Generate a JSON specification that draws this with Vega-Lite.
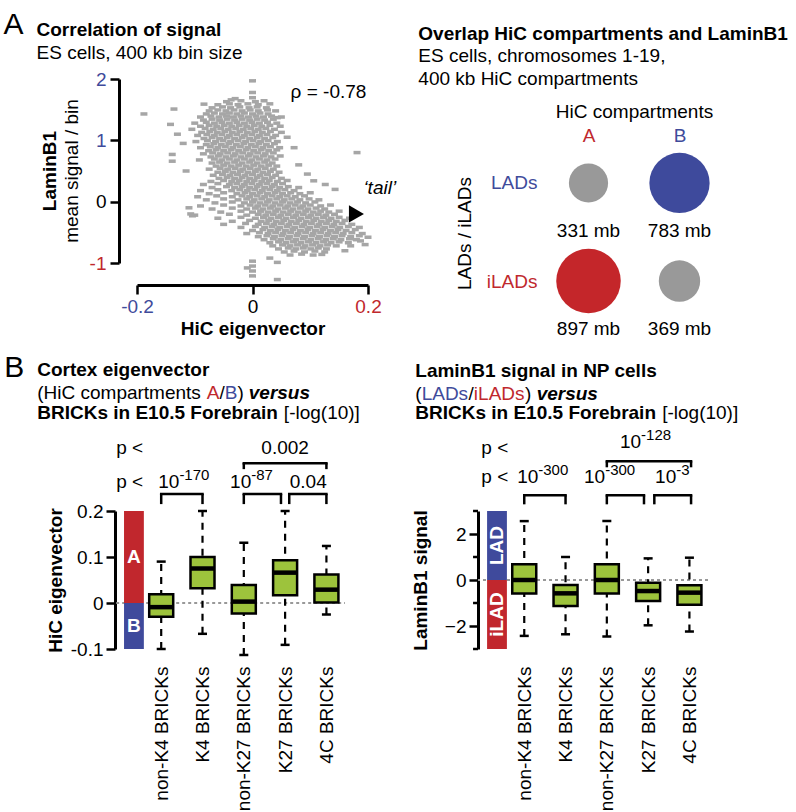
{
"$schema": "https://vega.github.io/schema/vega-lite/v6.json",
"padding": {"left": 3, "top": 9, "right": 5, "bottom": 0},
"config": {
  "font": "Liberation Sans",
  "view": {"stroke": null},
  "axis": {"labelFont": "Liberation Sans", "titleFont": "Liberation Sans", "labelFontSize": 19, "titleFontSize": 19, "labelColor": "#000", "titleColor": "#000", "domainColor": "#000", "tickColor": "#000", "grid": false},
  "text": {"font": "Liberation Sans", "fontSize": 19, "color": "#000"},
  "title": {"font": "Liberation Sans", "subtitleFont": "Liberation Sans", "color": "#000", "subtitleColor": "#000"}
},
"spacing": 13,
"vconcat": [
{
 "spacing": 21,
 "hconcat": [
 {
  "width": 231, "height": 184,
  "layer": [
   {
    "data": {"values": [
{"x":-0.03,"y":1.68},{"x":0,"y":1.695},
{"x":-0.045,"y":1.63},{"x":-0.02,"y":1.645},{"x":0.005,"y":1.63},{"x":0.02,"y":1.645},
{"x":-0.06,"y":1.58},{"x":-0.04,"y":1.595},{"x":-0.025,"y":1.58},{"x":-0.008,"y":1.595},{"x":0.01,"y":1.58},{"x":0.03,"y":1.595},
{"x":-0.07,"y":1.53},{"x":-0.052,"y":1.545},{"x":-0.038,"y":1.53},{"x":-0.022,"y":1.545},{"x":-0.006,"y":1.53},{"x":0.008,"y":1.545},{"x":0.024,"y":1.53},
{"x":-0.075,"y":1.48},{"x":-0.06,"y":1.495},{"x":-0.046,"y":1.48},{"x":-0.032,"y":1.495},{"x":-0.018,"y":1.48},{"x":-0.004,"y":1.495},{"x":0.01,"y":1.48},{"x":0.026,"y":1.495},{"x":0.04,"y":1.48},
{"x":-0.08,"y":1.43},{"x":-0.066,"y":1.445},{"x":-0.052,"y":1.43},{"x":-0.04,"y":1.445},{"x":-0.027,"y":1.43},{"x":-0.014,"y":1.445},{"x":0,"y":1.43},{"x":0.013,"y":1.445},{"x":0.027,"y":1.43},
{"x":-0.09,"y":1.38},{"x":-0.072,"y":1.395},{"x":-0.058,"y":1.38},{"x":-0.045,"y":1.395},{"x":-0.033,"y":1.38},{"x":-0.02,"y":1.395},{"x":-0.007,"y":1.38},{"x":0.006,"y":1.395},{"x":0.019,"y":1.38},{"x":0.033,"y":1.395},{"x":0.05,"y":1.38},
{"x":-0.085,"y":1.33},{"x":-0.07,"y":1.345},{"x":-0.057,"y":1.33},{"x":-0.044,"y":1.345},{"x":-0.031,"y":1.33},{"x":-0.018,"y":1.345},{"x":-0.005,"y":1.33},{"x":0.008,"y":1.345},{"x":0.021,"y":1.33},{"x":0.036,"y":1.345},
{"x":-0.1,"y":1.28},{"x":-0.08,"y":1.295},{"x":-0.066,"y":1.28},{"x":-0.053,"y":1.295},{"x":-0.04,"y":1.28},{"x":-0.027,"y":1.295},{"x":-0.014,"y":1.28},{"x":-0.001,"y":1.295},{"x":0.012,"y":1.28},{"x":0.026,"y":1.295},{"x":0.042,"y":1.28},
{"x":-0.09,"y":1.23},{"x":-0.075,"y":1.245},{"x":-0.062,"y":1.23},{"x":-0.049,"y":1.245},{"x":-0.036,"y":1.23},{"x":-0.023,"y":1.245},{"x":-0.01,"y":1.23},{"x":0.003,"y":1.245},{"x":0.016,"y":1.23},{"x":0.03,"y":1.245},{"x":0.048,"y":1.23},
{"x":-0.105,"y":1.18},{"x":-0.082,"y":1.195},{"x":-0.068,"y":1.18},{"x":-0.055,"y":1.195},{"x":-0.042,"y":1.18},{"x":-0.029,"y":1.195},{"x":-0.016,"y":1.18},{"x":-0.003,"y":1.195},{"x":0.01,"y":1.18},{"x":0.023,"y":1.195},{"x":0.038,"y":1.18},
{"x":-0.088,"y":1.13},{"x":-0.074,"y":1.145},{"x":-0.061,"y":1.13},{"x":-0.048,"y":1.145},{"x":-0.035,"y":1.13},{"x":-0.022,"y":1.145},{"x":-0.009,"y":1.13},{"x":0.004,"y":1.145},{"x":0.017,"y":1.13},{"x":0.031,"y":1.145},{"x":0.05,"y":1.13},
{"x":-0.095,"y":1.08},{"x":-0.079,"y":1.095},{"x":-0.066,"y":1.08},{"x":-0.053,"y":1.095},{"x":-0.04,"y":1.08},{"x":-0.027,"y":1.095},{"x":-0.014,"y":1.08},{"x":-0.001,"y":1.095},{"x":0.012,"y":1.08},{"x":0.025,"y":1.095},{"x":0.04,"y":1.08},
{"x":-0.084,"y":1.03},{"x":-0.07,"y":1.045},{"x":-0.057,"y":1.03},{"x":-0.044,"y":1.045},{"x":-0.031,"y":1.03},{"x":-0.018,"y":1.045},{"x":-0.005,"y":1.03},{"x":0.008,"y":1.045},{"x":0.021,"y":1.03},{"x":0.035,"y":1.045},
{"x":-0.098,"y":0.98},{"x":-0.078,"y":0.995},{"x":-0.064,"y":0.98},{"x":-0.051,"y":0.995},{"x":-0.038,"y":0.98},{"x":-0.025,"y":0.995},{"x":-0.012,"y":0.98},{"x":0.001,"y":0.995},{"x":0.014,"y":0.98},{"x":0.027,"y":0.995},{"x":0.043,"y":0.98},
{"x":-0.08,"y":0.93},{"x":-0.067,"y":0.945},{"x":-0.054,"y":0.93},{"x":-0.041,"y":0.945},{"x":-0.028,"y":0.93},{"x":-0.015,"y":0.945},{"x":-0.002,"y":0.93},{"x":0.011,"y":0.945},{"x":0.024,"y":0.93},{"x":0.038,"y":0.945},
{"x":-0.09,"y":0.88},{"x":-0.073,"y":0.895},{"x":-0.06,"y":0.88},{"x":-0.047,"y":0.895},{"x":-0.034,"y":0.88},{"x":-0.021,"y":0.895},{"x":-0.008,"y":0.88},{"x":0.005,"y":0.895},{"x":0.018,"y":0.88},{"x":0.031,"y":0.895},{"x":0.047,"y":0.88},
{"x":-0.076,"y":0.83},{"x":-0.063,"y":0.845},{"x":-0.05,"y":0.83},{"x":-0.037,"y":0.845},{"x":-0.024,"y":0.83},{"x":-0.011,"y":0.845},{"x":0.002,"y":0.83},{"x":0.015,"y":0.845},{"x":0.028,"y":0.83},{"x":0.042,"y":0.845},
{"x":-0.085,"y":0.78},{"x":-0.069,"y":0.795},{"x":-0.056,"y":0.78},{"x":-0.043,"y":0.795},{"x":-0.03,"y":0.78},{"x":-0.017,"y":0.795},{"x":-0.004,"y":0.78},{"x":0.009,"y":0.795},{"x":0.022,"y":0.78},{"x":0.036,"y":0.795},
{"x":-0.072,"y":0.73},{"x":-0.059,"y":0.745},{"x":-0.046,"y":0.73},{"x":-0.033,"y":0.745},{"x":-0.02,"y":0.73},{"x":-0.007,"y":0.745},{"x":0.006,"y":0.73},{"x":0.019,"y":0.745},{"x":0.032,"y":0.73},{"x":0.048,"y":0.745},
{"x":-0.092,"y":0.68},{"x":-0.066,"y":0.695},{"x":-0.053,"y":0.68},{"x":-0.04,"y":0.695},{"x":-0.027,"y":0.68},{"x":-0.014,"y":0.695},{"x":-0.001,"y":0.68},{"x":0.012,"y":0.695},{"x":0.025,"y":0.68},{"x":0.039,"y":0.695},
{"x":-0.07,"y":0.63},{"x":-0.057,"y":0.645},{"x":-0.044,"y":0.63},{"x":-0.031,"y":0.645},{"x":-0.018,"y":0.63},{"x":-0.005,"y":0.645},{"x":0.008,"y":0.63},{"x":0.021,"y":0.645},{"x":0.034,"y":0.63},
{"x":-0.063,"y":0.58},{"x":-0.05,"y":0.595},{"x":-0.037,"y":0.58},{"x":-0.024,"y":0.595},{"x":-0.011,"y":0.58},{"x":0.002,"y":0.595},{"x":0.015,"y":0.58},{"x":0.028,"y":0.595},{"x":0.042,"y":0.58},
{"x":-0.075,"y":0.53},{"x":-0.056,"y":0.545},{"x":-0.043,"y":0.53},{"x":-0.03,"y":0.545},{"x":-0.017,"y":0.53},{"x":-0.004,"y":0.545},{"x":0.009,"y":0.53},{"x":0.022,"y":0.545},{"x":0.036,"y":0.53},
{"x":-0.06,"y":0.48},{"x":-0.047,"y":0.495},{"x":-0.034,"y":0.48},{"x":-0.021,"y":0.495},{"x":-0.008,"y":0.48},{"x":0.005,"y":0.495},{"x":0.018,"y":0.48},{"x":0.031,"y":0.495},{"x":0.046,"y":0.48},
{"x":-0.068,"y":0.43},{"x":-0.052,"y":0.445},{"x":-0.039,"y":0.43},{"x":-0.026,"y":0.445},{"x":-0.013,"y":0.43},{"x":0,"y":0.445},{"x":0.013,"y":0.43},{"x":0.026,"y":0.445},{"x":0.04,"y":0.43},
{"x":-0.058,"y":0.38},{"x":-0.044,"y":0.395},{"x":-0.031,"y":0.38},{"x":-0.018,"y":0.395},{"x":-0.005,"y":0.38},{"x":0.008,"y":0.395},{"x":0.021,"y":0.38},{"x":0.034,"y":0.395},{"x":0.05,"y":0.38},
{"x":-0.072,"y":0.33},{"x":-0.05,"y":0.345},{"x":-0.036,"y":0.33},{"x":-0.023,"y":0.345},{"x":-0.01,"y":0.33},{"x":0.003,"y":0.345},{"x":0.016,"y":0.33},{"x":0.029,"y":0.345},{"x":0.043,"y":0.33},{"x":0.06,"y":0.345},
{"x":-0.085,"y":0.28},{"x":-0.06,"y":0.295},{"x":-0.04,"y":0.28},{"x":-0.027,"y":0.295},{"x":-0.014,"y":0.28},{"x":-0.001,"y":0.295},{"x":0.012,"y":0.28},{"x":0.025,"y":0.295},{"x":0.038,"y":0.28},{"x":0.052,"y":0.295},
{"x":-0.07,"y":0.23},{"x":-0.045,"y":0.245},{"x":-0.031,"y":0.23},{"x":-0.018,"y":0.245},{"x":-0.005,"y":0.23},{"x":0.008,"y":0.245},{"x":0.021,"y":0.23},{"x":0.034,"y":0.245},{"x":0.047,"y":0.23},{"x":0.062,"y":0.245},{"x":0.08,"y":0.23},
{"x":-0.09,"y":0.18},{"x":-0.06,"y":0.195},{"x":-0.036,"y":0.18},{"x":-0.022,"y":0.195},{"x":-0.009,"y":0.18},{"x":0.004,"y":0.195},{"x":0.017,"y":0.18},{"x":0.03,"y":0.195},{"x":0.043,"y":0.18},{"x":0.056,"y":0.195},{"x":0.072,"y":0.18},
{"x":-0.075,"y":0.13},{"x":-0.05,"y":0.145},{"x":-0.027,"y":0.13},{"x":-0.013,"y":0.145},{"x":0,"y":0.13},{"x":0.013,"y":0.145},{"x":0.026,"y":0.13},{"x":0.039,"y":0.145},{"x":0.052,"y":0.13},{"x":0.066,"y":0.145},{"x":0.082,"y":0.13},{"x":0.1,"y":0.145},
{"x":-0.095,"y":0.08},{"x":-0.062,"y":0.095},{"x":-0.035,"y":0.08},{"x":-0.018,"y":0.095},{"x":-0.005,"y":0.08},{"x":0.008,"y":0.095},{"x":0.021,"y":0.08},{"x":0.034,"y":0.095},{"x":0.047,"y":0.08},{"x":0.06,"y":0.095},{"x":0.074,"y":0.08},{"x":0.09,"y":0.095},
{"x":-0.08,"y":0.03},{"x":-0.05,"y":0.045},{"x":-0.025,"y":0.03},{"x":-0.01,"y":0.045},{"x":0.003,"y":0.03},{"x":0.016,"y":0.045},{"x":0.029,"y":0.03},{"x":0.042,"y":0.045},{"x":0.055,"y":0.03},{"x":0.068,"y":0.045},{"x":0.082,"y":0.03},{"x":0.098,"y":0.045},{"x":0.115,"y":0.03},
{"x":-0.065,"y":-0.02},{"x":-0.035,"y":-0.005},{"x":-0.014,"y":-0.02},{"x":0,"y":-0.005},{"x":0.013,"y":-0.02},{"x":0.026,"y":-0.005},{"x":0.039,"y":-0.02},{"x":0.052,"y":-0.005},{"x":0.065,"y":-0.02},{"x":0.078,"y":-0.005},{"x":0.092,"y":-0.02},{"x":0.108,"y":-0.005},
{"x":-0.09,"y":-0.07},{"x":-0.05,"y":-0.055},{"x":-0.02,"y":-0.07},{"x":-0.004,"y":-0.055},{"x":0.009,"y":-0.07},{"x":0.022,"y":-0.055},{"x":0.035,"y":-0.07},{"x":0.048,"y":-0.055},{"x":0.061,"y":-0.07},{"x":0.074,"y":-0.055},{"x":0.087,"y":-0.07},{"x":0.1,"y":-0.055},{"x":0.118,"y":-0.07},{"x":0.135,"y":-0.055},
{"x":-0.07,"y":-0.12},{"x":-0.035,"y":-0.105},{"x":-0.01,"y":-0.12},{"x":0.005,"y":-0.105},{"x":0.018,"y":-0.12},{"x":0.031,"y":-0.105},{"x":0.044,"y":-0.12},{"x":0.057,"y":-0.105},{"x":0.07,"y":-0.12},{"x":0.083,"y":-0.105},{"x":0.096,"y":-0.12},{"x":0.11,"y":-0.105},{"x":0.125,"y":-0.12},
{"x":-0.055,"y":-0.17},{"x":-0.02,"y":-0.155},{"x":0,"y":-0.17},{"x":0.014,"y":-0.155},{"x":0.027,"y":-0.17},{"x":0.04,"y":-0.155},{"x":0.053,"y":-0.17},{"x":0.066,"y":-0.155},{"x":0.079,"y":-0.17},{"x":0.092,"y":-0.155},{"x":0.105,"y":-0.17},{"x":0.118,"y":-0.155},{"x":0.132,"y":-0.17},{"x":0.15,"y":-0.155},
{"x":-0.1,"y":-0.22},{"x":-0.04,"y":-0.205},{"x":-0.01,"y":-0.22},{"x":0.01,"y":-0.205},{"x":0.023,"y":-0.22},{"x":0.036,"y":-0.205},{"x":0.049,"y":-0.22},{"x":0.062,"y":-0.205},{"x":0.075,"y":-0.22},{"x":0.088,"y":-0.205},{"x":0.101,"y":-0.22},{"x":0.114,"y":-0.205},{"x":0.127,"y":-0.22},{"x":0.142,"y":-0.205},
{"x":-0.06,"y":-0.27},{"x":-0.02,"y":-0.255},{"x":0.005,"y":-0.27},{"x":0.019,"y":-0.255},{"x":0.032,"y":-0.27},{"x":0.045,"y":-0.255},{"x":0.058,"y":-0.27},{"x":0.071,"y":-0.255},{"x":0.084,"y":-0.27},{"x":0.097,"y":-0.255},{"x":0.11,"y":-0.27},{"x":0.123,"y":-0.255},{"x":0.136,"y":-0.27},{"x":0.15,"y":-0.255},{"x":0.168,"y":-0.27},
{"x":-0.035,"y":-0.32},{"x":-0.005,"y":-0.305},{"x":0.015,"y":-0.32},{"x":0.028,"y":-0.305},{"x":0.041,"y":-0.32},{"x":0.054,"y":-0.305},{"x":0.067,"y":-0.32},{"x":0.08,"y":-0.305},{"x":0.093,"y":-0.32},{"x":0.106,"y":-0.305},{"x":0.119,"y":-0.32},{"x":0.132,"y":-0.305},{"x":0.145,"y":-0.32},{"x":0.16,"y":-0.305},
{"x":-0.05,"y":-0.37},{"x":-0.012,"y":-0.355},{"x":0.01,"y":-0.37},{"x":0.024,"y":-0.355},{"x":0.037,"y":-0.37},{"x":0.05,"y":-0.355},{"x":0.063,"y":-0.37},{"x":0.076,"y":-0.355},{"x":0.089,"y":-0.37},{"x":0.102,"y":-0.355},{"x":0.115,"y":-0.37},{"x":0.128,"y":-0.355},{"x":0.141,"y":-0.37},{"x":0.155,"y":-0.355},{"x":0.172,"y":-0.37},
{"x":-0.02,"y":-0.42},{"x":0.005,"y":-0.405},{"x":0.021,"y":-0.42},{"x":0.034,"y":-0.405},{"x":0.047,"y":-0.42},{"x":0.06,"y":-0.405},{"x":0.073,"y":-0.42},{"x":0.086,"y":-0.405},{"x":0.099,"y":-0.42},{"x":0.112,"y":-0.405},{"x":0.125,"y":-0.42},{"x":0.138,"y":-0.405},{"x":0.151,"y":-0.42},{"x":0.166,"y":-0.405},{"x":0.185,"y":-0.42},
{"x":0,"y":-0.47},{"x":0.018,"y":-0.455},{"x":0.031,"y":-0.47},{"x":0.044,"y":-0.455},{"x":0.057,"y":-0.47},{"x":0.07,"y":-0.455},{"x":0.083,"y":-0.47},{"x":0.096,"y":-0.455},{"x":0.109,"y":-0.47},{"x":0.122,"y":-0.455},{"x":0.135,"y":-0.47},{"x":0.148,"y":-0.455},{"x":0.162,"y":-0.47},{"x":0.178,"y":-0.455},
{"x":-0.01,"y":-0.52},{"x":0.012,"y":-0.505},{"x":0.027,"y":-0.52},{"x":0.04,"y":-0.505},{"x":0.053,"y":-0.52},{"x":0.066,"y":-0.505},{"x":0.079,"y":-0.52},{"x":0.092,"y":-0.505},{"x":0.105,"y":-0.52},{"x":0.118,"y":-0.505},{"x":0.131,"y":-0.52},{"x":0.144,"y":-0.505},{"x":0.157,"y":-0.52},{"x":0.172,"y":-0.505},{"x":0.19,"y":-0.52},
{"x":0.01,"y":-0.57},{"x":0.025,"y":-0.555},{"x":0.038,"y":-0.57},{"x":0.051,"y":-0.555},{"x":0.064,"y":-0.57},{"x":0.077,"y":-0.555},{"x":0.09,"y":-0.57},{"x":0.103,"y":-0.555},{"x":0.116,"y":-0.57},{"x":0.129,"y":-0.555},{"x":0.142,"y":-0.57},{"x":0.155,"y":-0.555},{"x":0.17,"y":-0.57},{"x":0.185,"y":-0.555},
{"x":0.02,"y":-0.62},{"x":0.036,"y":-0.605},{"x":0.049,"y":-0.62},{"x":0.062,"y":-0.605},{"x":0.075,"y":-0.62},{"x":0.088,"y":-0.605},{"x":0.101,"y":-0.62},{"x":0.114,"y":-0.605},{"x":0.127,"y":-0.62},{"x":0.14,"y":-0.605},{"x":0.153,"y":-0.62},{"x":0.168,"y":-0.605},{"x":0.18,"y":-0.62},
{"x":0.03,"y":-0.67},{"x":0.045,"y":-0.655},{"x":0.058,"y":-0.67},{"x":0.071,"y":-0.655},{"x":0.084,"y":-0.67},{"x":0.097,"y":-0.655},{"x":0.11,"y":-0.67},{"x":0.123,"y":-0.655},{"x":0.136,"y":-0.67},{"x":0.15,"y":-0.655},{"x":0.166,"y":-0.67},
{"x":0.035,"y":-0.72},{"x":0.052,"y":-0.705},{"x":0.065,"y":-0.72},{"x":0.078,"y":-0.705},{"x":0.091,"y":-0.72},{"x":0.104,"y":-0.705},{"x":0.117,"y":-0.72},{"x":0.13,"y":-0.705},{"x":0.145,"y":-0.72},
{"x":0.045,"y":-0.77},{"x":0.062,"y":-0.755},{"x":0.075,"y":-0.77},{"x":0.088,"y":-0.755},{"x":0.101,"y":-0.77},{"x":0.114,"y":-0.755},{"x":0.128,"y":-0.77},
{"x":0.055,"y":-0.82},{"x":0.072,"y":-0.805},{"x":0.09,"y":-0.82},{"x":0.108,"y":-0.805},{"x":0.125,"y":-0.82},
{"x":0.065,"y":-0.87},{"x":0.085,"y":-0.855},{"x":0.105,"y":-0.87},
{"x":-0.188,"y":1.43},{"x":-0.136,"y":1.51},{"x":-0.142,"y":1.26},{"x":-0.139,"y":0.77},{"x":-0.139,"y":0.66},{"x":-0.11,"y":-0.1},{"x":-0.104,"y":-0.23},{"x":-0.084,"y":1.59},{"x":-0.037,"y":1.66},{"x":0,"y":1.97},{"x":0,"y":1.78},{"x":0.043,"y":1.37},{"x":0.072,"y":0.88},{"x":0.181,"y":0.8},{"x":0.126,"y":0.28},{"x":0.143,"y":0.2},{"x":0.106,"y":0.34},{"x":0,"y":-0.97},{"x":0,"y":-1.05},{"x":0,"y":-1.13},{"x":0,"y":-1.21},{"x":0.043,"y":-0.99},{"x":0.043,"y":-1.27},{"x":-0.009,"y":-1.08},{"x":0.187,"y":-0.64},{"x":0.17,"y":-0.72},{"x":-0.107,"y":-0.2},{"x":0.06,"y":1.05},{"x":0.08,"y":0.6},{"x":0.095,"y":0.45},{"x":-0.12,"y":0.95},{"x":-0.13,"y":1.1},{"x":-0.115,"y":0.5},{"x":0.2,"y":-0.58},{"x":0.195,"y":-0.7},{"x":0.16,"y":-0.8},{"x":0.03,"y":-0.92},{"x":0.12,"y":-0.86}
    ]},
    "mark": {"type": "point", "shape": "M-1,-0.5H1V0.5H-1Z", "filled": true, "size": 49, "color": "#a6a6a6", "opacity": 1, "strokeWidth": 0},
    "encoding": {
     "x": {"field": "x", "type": "quantitative", "scale": {"domain": [-0.2, 0.2], "nice": false, "zero": false, "padding": 0},
       "axis": {"values": [-0.2, 0, 0.2], "labelExpr": "toString(datum.value)", "offset": 22, "tickSize": 9, "tickWidth": 2.5, "domainWidth": 3, "labelPadding": 3, "labelFlush": false,
         "labelColor": {"condition": [{"test": "datum.value < 0", "value": "#3f4b9b"}, {"test": "datum.value > 0", "value": "#c0282d"}], "value": "#000"},
         "title": "HiC eigenvector", "titleFontWeight": "bold", "titlePadding": 3}},
     "y": {"field": "y", "type": "quantitative", "scale": {"domain": [-1, 2], "nice": false, "zero": false, "padding": 0},
       "axis": {"values": [-1, -0.5, 0, 0.5, 1, 1.5, 2], "labelExpr": "indexof([-1, 0, 1, 2], datum.value) >= 0 ? toString(datum.value) : ''", "offset": 18, "tickWidth": 2.5, "domainWidth": 3, "labelPadding": 4, "labelFlush": false,
         "tickSize": {"condition": {"test": "indexof([-1, 0, 1, 2], datum.value) >= 0", "value": 9}, "value": 5},
         "labelColor": {"condition": [{"test": "datum.value > 0", "value": "#3f4b9b"}, {"test": "datum.value < 0", "value": "#c0282d"}], "value": "#000"},
         "title": null}}
    }
   },
   {
    "data": {"values": [{"x": -0.431, "y": 2.734, "t": "A"}]},
    "mark": {"type": "text", "align": "left", "baseline": "alphabetic", "fontSize": 30},
    "encoding": {"x": {"field": "x", "type": "quantitative"}, "y": {"field": "y", "type": "quantitative"}, "text": {"field": "t"}}
   },
   {
    "data": {"values": [{"x": -0.374, "y": 2.702, "t": "Correlation of signal"}]},
    "mark": {"type": "text", "align": "left", "baseline": "alphabetic", "fontWeight": "bold"},
    "encoding": {"x": {"field": "x", "type": "quantitative"}, "y": {"field": "y", "type": "quantitative"}, "text": {"field": "t"}}
   },
   {
    "data": {"values": [{"x": -0.374, "y": 2.327, "t": "ES cells, 400 kb bin size"}, {"x": 0.066, "y": 1.69, "t": "ρ = -0.78"}]},
    "mark": {"type": "text", "align": "left", "baseline": "alphabetic"},
    "encoding": {"x": {"field": "x", "type": "quantitative"}, "y": {"field": "y", "type": "quantitative"}, "text": {"field": "t"}}
   },
   {
    "data": {"values": [{"x": 0.192, "y": 0.126, "t": "‘tail’"}]},
    "mark": {"type": "text", "align": "left", "baseline": "alphabetic", "fontStyle": "italic"},
    "encoding": {"x": {"field": "x", "type": "quantitative"}, "y": {"field": "y", "type": "quantitative"}, "text": {"field": "t"}}
   },
   {
    "data": {"values": [{"x": -0.35, "y": 0.5, "t": "LaminB1"}]},
    "mark": {"type": "text", "align": "center", "baseline": "middle", "angle": 270, "fontWeight": "bold"},
    "encoding": {"x": {"field": "x", "type": "quantitative"}, "y": {"field": "y", "type": "quantitative"}, "text": {"field": "t"}}
   },
   {
    "data": {"values": [{"x": -0.312, "y": 0.5, "t": "mean signal / bin"}]},
    "mark": {"type": "text", "align": "center", "baseline": "middle", "angle": 270},
    "encoding": {"x": {"field": "x", "type": "quantitative"}, "y": {"field": "y", "type": "quantitative"}, "text": {"field": "t"}}
   },
   {
    "data": {"values": [{"x": 0.18, "y": -0.2}]},
    "mark": {"type": "point", "shape": "triangle-right", "filled": true, "size": 300, "color": "#000", "opacity": 1},
    "encoding": {"x": {"field": "x", "type": "quantitative"}, "y": {"field": "y", "type": "quantitative"}}
   }
  ]
 },
 {
  "width": 182, "height": 230,
  "title": {"text": "Overlap HiC compartments and LaminB1", "subtitle": ["ES cells, chromosomes 1-19,", "400 kb HiC compartments"], "anchor": "start", "frame": "bounds", "dx": -37, "offset": -10, "fontSize": 19, "fontWeight": "bold", "subtitleFontSize": 19, "subtitlePadding": 3, "subtitleLineHeight": 23},
  "data": {"values": [
    {"lad": "LADs", "hic": "A", "mb": 331, "lab": "331 mb"},
    {"lad": "LADs", "hic": "B", "mb": 783, "lab": "783 mb"},
    {"lad": "iLADs", "hic": "A", "mb": 897, "lab": "897 mb"},
    {"lad": "iLADs", "hic": "B", "mb": 369, "lab": "369 mb"}
  ]},
  "encoding": {
    "x": {"field": "hic", "type": "nominal", "scale": {"type": "point", "domain": ["A", "B"], "padding": 0.5},
      "axis": {"orient": "top", "offset": -68, "domain": false, "ticks": false, "labelAngle": 0, "labelPadding": 2,
        "labelColor": {"condition": {"test": "datum.value === 'A'", "value": "#c0282d"}, "value": "#3f4b9b"},
        "title": "HiC compartments", "titleFontWeight": "normal", "titlePadding": 5}},
    "y": {"field": "lad", "type": "nominal", "scale": {"type": "point", "domain": ["LADs", "iLADs"], "padding": 0.673, "align": 0.788},
      "axis": {"domain": false, "ticks": false, "labelPadding": 6,
        "labelColor": {"condition": {"test": "datum.value === 'LADs'", "value": "#3f4b9b"}, "value": "#c0282d"},
        "title": "LADs / iLADs", "titleFontWeight": "normal", "titlePadding": 12, "titleY": 154}}
  },
  "layer": [
    {"mark": {"type": "circle", "opacity": 1},
     "encoding": {
       "size": {"field": "mb", "type": "quantitative", "scale": {"domain": [0, 1000], "range": [0, 4640]}, "legend": null},
       "color": {"condition": [{"test": "datum.lad === 'LADs' && datum.hic === 'B'", "value": "#3e4a9c"}, {"test": "datum.lad === 'iLADs' && datum.hic === 'A'", "value": "#c4262a"}], "value": "#999999"}
     }},
    {"mark": {"type": "text", "dy": 48, "fontSize": 19, "baseline": "middle"},
     "encoding": {"text": {"field": "lab"}}}
  ]
 }
 ]
},
{
 "spacing": 51,
 "hconcat": [
 {
  "width": 208, "height": 138,
  "layer": [
   {
    "data": {"values": [{"x": -1.09, "x2": 4.45, "y": 0}]},
    "mark": {"type": "rule", "color": "#999999", "strokeDash": [3, 3], "strokeWidth": 2.2},
    "encoding": {"x": {"field": "x", "type": "quantitative"}, "x2": {"field": "x2"}, "y": {"field": "y", "type": "quantitative"}}
   },
   {
    "data": {"values": [
      {"x": 0, "g": "non-K4 BRICKs", "lo": -0.1, "q1": -0.03, "m": -0.009, "q3": 0.019, "hi": 0.09},
      {"x": 1, "g": "K4 BRICKs", "lo": -0.067, "q1": 0.032, "m": 0.075, "q3": 0.1, "hi": 0.2},
      {"x": 2, "g": "non-K27 BRICKs", "lo": -0.113, "q1": -0.023, "m": 0.003, "q3": 0.039, "hi": 0.131},
      {"x": 3, "g": "K27 BRICKs", "lo": -0.091, "q1": 0.017, "m": 0.066, "q3": 0.093, "hi": 0.2},
      {"x": 4, "g": "4C BRICKs", "lo": -0.025, "q1": 0.001, "m": 0.029, "q3": 0.062, "hi": 0.124}
    ]},
    "encoding": {
      "x": {"field": "x", "type": "quantitative", "scale": {"domain": [-0.586, 4.45], "nice": false, "zero": false, "padding": 0},
        "axis": {"values": [0, 1, 2, 3, 4], "labelExpr": "['non-K4 BRICKs','K4 BRICKs','non-K27 BRICKs','K27 BRICKs','4C BRICKs'][datum.value]", "labelAngle": 270, "domain": false, "ticks": false, "labelPadding": 17, "labelOverlap": false, "labelFlush": false, "labelBound": false, "title": null}},
      "y": {"field": "lo", "type": "quantitative", "scale": {"domain": [-0.1, 0.2], "nice": false, "zero": false, "padding": 0},
        "axis": {"values": [-0.1, -0.05, 0, 0.05, 0.1, 0.15, 0.2], "labelExpr": "indexof([-0.1, 0, 0.1, 0.2], datum.value) >= 0 ? toString(datum.value) : ''", "offset": 22, "tickWidth": 2.5, "domainWidth": 3, "labelPadding": 3, "labelFlush": false,
          "tickSize": {"condition": {"test": "indexof([-0.1, 0, 0.1, 0.2], datum.value) >= 0", "value": 9}, "value": 5},
          "title": "HiC eigenvector", "titleFontWeight": "bold", "titlePadding": 5}}
    },
    "layer": [
      {"mark": {"type": "rule", "strokeDash": [7, 6], "strokeWidth": 2.2, "color": "#000"}, "encoding": {"y2": {"field": "hi"}}},
      {"mark": {"type": "tick", "orient": "horizontal", "size": 9, "thickness": 2.5, "color": "#000", "opacity": 1}},
      {"mark": {"type": "tick", "orient": "horizontal", "size": 9, "thickness": 2.5, "color": "#000", "opacity": 1}, "encoding": {"y": {"field": "hi", "type": "quantitative"}}},
      {"mark": {"type": "bar", "width": 24, "fill": "#9dc33c", "stroke": "#000", "strokeWidth": 2.5}, "encoding": {"y": {"field": "q1", "type": "quantitative"}, "y2": {"field": "q3"}}},
      {"mark": {"type": "tick", "orient": "horizontal", "size": 24, "thickness": 4.5, "color": "#000", "opacity": 1}, "encoding": {"y": {"field": "m", "type": "quantitative"}}}
    ]
   },
   {
    "data": {"values": [{"c": "A", "x": -0.9, "x2": -0.42, "y": 0, "y2": 0.2}, {"c": "B", "x": -0.9, "x2": -0.42, "y": -0.1, "y2": 0}]},
    "mark": {"type": "rect"},
    "encoding": {"x": {"field": "x", "type": "quantitative"}, "x2": {"field": "x2"}, "y": {"field": "y", "type": "quantitative"}, "y2": {"field": "y2"},
      "color": {"condition": {"test": "datum.c === 'A'", "value": "#c1272d"}, "value": "#3f4a9c"}}
   },
   {
    "data": {"values": [{"x": -0.66, "y": 0.1, "t": "A"}, {"x": -0.66, "y": -0.05, "t": "B"}]},
    "mark": {"type": "text", "align": "center", "baseline": "middle", "fontWeight": "bold", "color": "#fff"},
    "encoding": {"x": {"field": "x", "type": "quantitative"}, "y": {"field": "y", "type": "quantitative"}, "text": {"field": "t"}}
   },
   {
    "data": {"values": [{"a": 0, "b": 1, "t": 0.237, "u": 0.215}, {"a": 2, "b": 2.9, "t": 0.237, "u": 0.215}, {"a": 3.1, "b": 4, "t": 0.237, "u": 0.215}, {"a": 2, "b": 4, "t": 0.304, "u": 0.291}]},
    "layer": [
      {"mark": {"type": "rule", "strokeWidth": 2.5, "color": "#000", "strokeCap": "square"}, "encoding": {"x": {"field": "a", "type": "quantitative"}, "x2": {"field": "b"}, "y": {"field": "t", "type": "quantitative"}}},
      {"mark": {"type": "rule", "strokeWidth": 2.5, "color": "#000"}, "encoding": {"x": {"field": "a", "type": "quantitative"}, "y": {"field": "u", "type": "quantitative"}, "y2": {"field": "t"}}},
      {"mark": {"type": "rule", "strokeWidth": 2.5, "color": "#000"}, "encoding": {"x": {"field": "b", "type": "quantitative"}, "y": {"field": "u", "type": "quantitative"}, "y2": {"field": "t"}}}
    ]
   },
   {
    "data": {"values": [{"x": -3.801, "y": 0.491, "t": "B"}]},
    "mark": {"type": "text", "align": "left", "baseline": "alphabetic", "fontSize": 30},
    "encoding": {"x": {"field": "x", "type": "quantitative"}, "y": {"field": "y", "type": "quantitative"}, "text": {"field": "t"}}
   },
   {
    "data": {"values": [{"x": -3.002, "y": 0.4935, "t": "Cortex eigenvector"}, {"x": -3.002, "y": 0.4, "t": "BRICKs in E10.5 Forebrain"}]},
    "mark": {"type": "text", "align": "left", "baseline": "alphabetic", "fontWeight": "bold"},
    "encoding": {"x": {"field": "x", "type": "quantitative"}, "y": {"field": "y", "type": "quantitative"}, "text": {"field": "t"}}
   },
   {
    "data": {"values": [{"x": 2.12, "y": 0.4435, "t": "versus"}]},
    "mark": {"type": "text", "align": "left", "baseline": "alphabetic", "fontWeight": "bold", "fontStyle": "italic"},
    "encoding": {"x": {"field": "x", "type": "quantitative"}, "y": {"field": "y", "type": "quantitative"}, "text": {"field": "t"}}
   },
   {
    "data": {"values": [{"x": -3.002, "y": 0.4435, "t": "(HiC compartments"}, {"x": 1.41, "y": 0.4435, "t": "/"}, {"x": 1.845, "y": 0.4435, "t": ")"}, {"x": 2.97, "y": 0.4, "t": "[-log(10)]"}, {"x": -1.09, "y": 0.324, "t": "p <"}, {"x": -1.09, "y": 0.25, "t": "p <"}, {"x": 1.1, "y": 0.4435, "t": "A", "hue": "red"}, {"x": 1.54, "y": 0.4435, "t": "B", "hue": "blue"}]},
    "mark": {"type": "text", "align": "left", "baseline": "alphabetic"},
    "encoding": {"x": {"field": "x", "type": "quantitative"}, "y": {"field": "y", "type": "quantitative"}, "text": {"field": "t"},
      "color": {"condition": [{"test": "datum.hue === 'red'", "value": "#c0282d"}, {"test": "datum.hue === 'blue'", "value": "#3f4b9b"}], "value": "#000"}}
   },
   {
    "data": {"values": [{"x": 3.0, "y": 0.324, "t": "0.002"}, {"x": 3.56, "y": 0.25, "t": "0.04"}]},
    "mark": {"type": "text", "align": "center", "baseline": "alphabetic"},
    "encoding": {"x": {"field": "x", "type": "quantitative"}, "y": {"field": "y", "type": "quantitative"}, "text": {"field": "t"}}
   },
   {
    "data": {"values": [{"x": 0.44, "y": 0.25, "t": "10"}, {"x": 2.18, "y": 0.25, "t": "10"}]},
    "mark": {"type": "text", "align": "right", "baseline": "alphabetic"},
    "encoding": {"x": {"field": "x", "type": "quantitative"}, "y": {"field": "y", "type": "quantitative"}, "text": {"field": "t"}}
   },
   {
    "data": {"values": [{"x": 0.44, "y": 0.25, "t": "-170"}, {"x": 2.18, "y": 0.25, "t": "-87"}]},
    "mark": {"type": "text", "align": "left", "baseline": "alphabetic", "fontSize": 15, "dy": -8},
    "encoding": {"x": {"field": "x", "type": "quantitative"}, "y": {"field": "y", "type": "quantitative"}, "text": {"field": "t"}}
   }
  ]
 },
 {
  "width": 230, "height": 138,
  "layer": [
   {
    "data": {"values": [
      {"x": 0, "g": "non-K4 BRICKs", "lo": -2.43, "q1": -0.59, "m": 0, "q3": 0.68, "hi": 2.56},
      {"x": 1, "g": "K4 BRICKs", "lo": -2.36, "q1": -1.13, "m": -0.58, "q3": -0.22, "hi": 1.0},
      {"x": 2, "g": "non-K27 BRICKs", "lo": -2.46, "q1": -0.59, "m": 0, "q3": 0.68, "hi": 2.56},
      {"x": 3, "g": "K27 BRICKs", "lo": -1.97, "q1": -0.91, "m": -0.48, "q3": -0.12, "hi": 0.94},
      {"x": 4, "g": "4C BRICKs", "lo": -2.24, "q1": -1.08, "m": -0.55, "q3": -0.23, "hi": 0.97}
    ]},
    "encoding": {
      "x": {"field": "x", "type": "quantitative", "scale": {"domain": [-1.12, 4.45], "nice": false, "zero": false, "padding": 0},
        "axis": {"values": [0, 1, 2, 3, 4], "labelExpr": "['non-K4 BRICKs','K4 BRICKs','non-K27 BRICKs','K27 BRICKs','4C BRICKs'][datum.value]", "labelAngle": 270, "domain": false, "ticks": false, "labelPadding": 17, "labelOverlap": false, "labelFlush": false, "labelBound": false, "title": null}},
      "y": {"field": "lo", "type": "quantitative", "scale": {"domain": [-3, 3], "nice": false, "zero": false, "padding": 0},
        "axis": {"values": [-2, 0, 2], "format": "d", "tickSize": 9, "tickWidth": 2.5, "domainWidth": 3, "labelPadding": 3, "labelFlush": false, "labelOverlap": false,
          "title": "LaminB1 signal", "titleFontWeight": "bold", "titlePadding": 14}}
    },
    "layer": [
      {"mark": {"type": "rule", "color": "#999999", "strokeDash": [3, 3], "strokeWidth": 2.2}, "encoding": {"x": null, "y": {"datum": 0, "type": "quantitative"}, "y2": null}},
      {"mark": {"type": "rule", "strokeDash": [7, 6], "strokeWidth": 2.2, "color": "#000"}, "encoding": {"y2": {"field": "hi"}}},
      {"mark": {"type": "tick", "orient": "horizontal", "size": 9, "thickness": 2.5, "color": "#000", "opacity": 1}},
      {"mark": {"type": "tick", "orient": "horizontal", "size": 9, "thickness": 2.5, "color": "#000", "opacity": 1}, "encoding": {"y": {"field": "hi", "type": "quantitative"}}},
      {"mark": {"type": "bar", "width": 24, "fill": "#9dc33c", "stroke": "#000", "strokeWidth": 2.5}, "encoding": {"y": {"field": "q1", "type": "quantitative"}, "y2": {"field": "q3"}}},
      {"mark": {"type": "tick", "orient": "horizontal", "size": 24, "thickness": 4.5, "color": "#000", "opacity": 1}, "encoding": {"y": {"field": "m", "type": "quantitative"}}}
    ]
   },
   {
    "data": {"values": [{"x": -1.24, "x2": -1.12, "y": -3}, {"x": -1.24, "x2": -1.12, "y": -1}, {"x": -1.24, "x2": -1.12, "y": 1}, {"x": -1.24, "x2": -1.12, "y": 3}]},
    "mark": {"type": "rule", "strokeWidth": 2.5, "color": "#000"},
    "encoding": {"x": {"field": "x", "type": "quantitative"}, "x2": {"field": "x2"}, "y": {"field": "y", "type": "quantitative"}}
   },
   {
    "data": {"values": [{"c": "LAD", "x": -0.9, "x2": -0.42, "y": 0, "y2": 3}, {"c": "iLAD", "x": -0.9, "x2": -0.42, "y": -3, "y2": 0}]},
    "mark": {"type": "rect"},
    "encoding": {"x": {"field": "x", "type": "quantitative"}, "x2": {"field": "x2"}, "y": {"field": "y", "type": "quantitative"}, "y2": {"field": "y2"},
      "color": {"condition": {"test": "datum.c === 'LAD'", "value": "#3f4a9c"}, "value": "#c1272d"}}
   },
   {
    "data": {"values": [{"x": -0.66, "y": 1.5, "t": "LAD"}, {"x": -0.66, "y": -1.5, "t": "iLAD"}]},
    "mark": {"type": "text", "align": "center", "baseline": "middle", "fontWeight": "bold", "color": "#fff", "angle": 270},
    "encoding": {"x": {"field": "x", "type": "quantitative"}, "y": {"field": "y", "type": "quantitative"}, "text": {"field": "t"}}
   },
   {
    "data": {"values": [{"a": 0, "b": 1, "t": 3.68, "u": 3.29}, {"a": 2, "b": 2.9, "t": 3.68, "u": 3.29}, {"a": 3.15, "b": 4.04, "t": 3.68, "u": 3.29}, {"a": 2, "b": 4.04, "t": 5.16, "u": 4.9}]},
    "layer": [
      {"mark": {"type": "rule", "strokeWidth": 2.5, "color": "#000", "strokeCap": "square"}, "encoding": {"x": {"field": "a", "type": "quantitative"}, "x2": {"field": "b"}, "y": {"field": "t", "type": "quantitative"}}},
      {"mark": {"type": "rule", "strokeWidth": 2.5, "color": "#000"}, "encoding": {"x": {"field": "a", "type": "quantitative"}, "y": {"field": "u", "type": "quantitative"}, "y2": {"field": "t"}}},
      {"mark": {"type": "rule", "strokeWidth": 2.5, "color": "#000"}, "encoding": {"x": {"field": "b", "type": "quantitative"}, "y": {"field": "u", "type": "quantitative"}, "y2": {"field": "t"}}}
    ]
   },
   {
    "data": {"values": [{"x": -2.639, "y": 8.84, "t": "LaminB1 signal in NP cells"}, {"x": -2.639, "y": 6.98, "t": "BRICKs in E10.5 Forebrain"}]},
    "mark": {"type": "text", "align": "left", "baseline": "alphabetic", "fontWeight": "bold"},
    "encoding": {"x": {"field": "x", "type": "quantitative"}, "y": {"field": "y", "type": "quantitative"}, "text": {"field": "t"}}
   },
   {
    "data": {"values": [{"x": 0.3, "y": 7.84, "t": "versus"}]},
    "mark": {"type": "text", "align": "left", "baseline": "alphabetic", "fontWeight": "bold", "fontStyle": "italic"},
    "encoding": {"x": {"field": "x", "type": "quantitative"}, "y": {"field": "y", "type": "quantitative"}, "text": {"field": "t"}}
   },
   {
    "data": {"values": [{"x": -2.639, "y": 7.84, "t": "("}, {"x": -1.35, "y": 7.84, "t": "/"}, {"x": 0.02, "y": 7.84, "t": ")"}, {"x": 3.34, "y": 6.98, "t": "[-log(10)]"}, {"x": -1.04, "y": 5.5, "t": "p <"}, {"x": -1.04, "y": 4.2, "t": "p <"}, {"x": -2.485, "y": 7.84, "t": "LADs", "hue": "blue"}, {"x": -1.22, "y": 7.84, "t": "iLADs", "hue": "red"}]},
    "mark": {"type": "text", "align": "left", "baseline": "alphabetic"},
    "encoding": {"x": {"field": "x", "type": "quantitative"}, "y": {"field": "y", "type": "quantitative"}, "text": {"field": "t"},
      "color": {"condition": [{"test": "datum.hue === 'red'", "value": "#c0282d"}, {"test": "datum.hue === 'blue'", "value": "#3f4b9b"}], "value": "#000"}}
   },
   {
    "data": {"values": [{"x": 2.83, "y": 5.72, "t": "10"}, {"x": 0.34, "y": 4.2, "t": "10"}, {"x": 1.96, "y": 4.2, "t": "10"}, {"x": 3.68, "y": 4.2, "t": "10"}]},
    "mark": {"type": "text", "align": "right", "baseline": "alphabetic"},
    "encoding": {"x": {"field": "x", "type": "quantitative"}, "y": {"field": "y", "type": "quantitative"}, "text": {"field": "t"}}
   },
   {
    "data": {"values": [{"x": 2.83, "y": 5.72, "t": "-128"}, {"x": 0.34, "y": 4.2, "t": "-300"}, {"x": 1.96, "y": 4.2, "t": "-300"}, {"x": 3.68, "y": 4.2, "t": "-3"}]},
    "mark": {"type": "text", "align": "left", "baseline": "alphabetic", "fontSize": 15, "dy": -8},
    "encoding": {"x": {"field": "x", "type": "quantitative"}, "y": {"field": "y", "type": "quantitative"}, "text": {"field": "t"}}
   }
  ]
 }
 ]
}
]
}
